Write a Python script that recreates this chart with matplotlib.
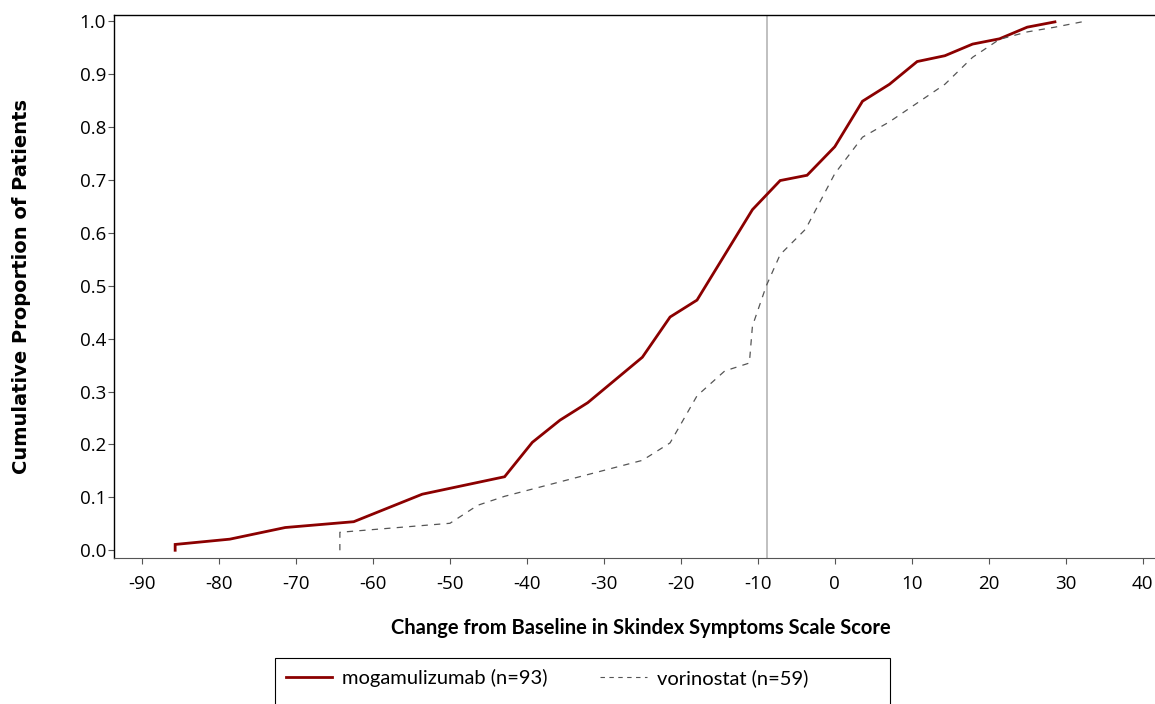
import matplotlib
matplotlib.use("Agg")
import matplotlib.pyplot as plt
from matplotlib.lines import Line2D
from matplotlib.patches import Rectangle

# change from baseline (x) vs cumulative proportion (y)
mog_x = [-85.7, -85.7, -78.6, -71.4, -62.5, -53.6, -42.9, -39.3, -35.7, -32.1,
         -25.0, -21.4, -17.9, -10.7, -7.1, -3.6, 0.0, 3.6, 7.1, 10.7,
         14.3, 17.9, 21.4, 25.0, 28.6]
mog_y = [0.0, 0.011, 0.021, 0.043, 0.054, 0.106, 0.139, 0.204, 0.246, 0.279,
         0.365, 0.441, 0.473, 0.644, 0.699, 0.709, 0.763, 0.849, 0.881, 0.924,
         0.935, 0.957, 0.967, 0.989, 0.999]

vor_x = [-64.3, -64.3, -50.0, -46.4, -42.9, -25.0, -21.4, -17.9, -14.3, -11.1,
         -10.7, -8.9, -7.1, -3.8, 0.0, 3.6, 7.1, 14.3, 17.9, 21.4,
         25.0, 28.6, 32.1]
vor_y = [0.0, 0.034, 0.051, 0.085, 0.102, 0.170, 0.203, 0.292, 0.339, 0.354,
         0.424, 0.500, 0.559, 0.607, 0.712, 0.781, 0.810, 0.881, 0.932, 0.966,
         0.980, 0.989, 0.999]

ref_x = -8.8

x_ticks = list(range(-90, 41, 10))
y_ticks = [i / 10 for i in range(11)]

mog_label = "mogamulizumab (n=93)"
vor_label = "vorinostat (n=59)"
x_title = "Change from Baseline in Skindex Symptoms Scale Score"
y_title = "Cumulative Proportion of Patients"

narrow = ["Lato", "DejaVu Sans"]

fig = plt.figure(figsize=(11.55, 7.04), dpi=100)
ax = fig.add_axes([0.099, 0.2074, 0.901, 0.7713])

red = "#8b0000"
ax.plot(mog_x, mog_y, color=red, lw=2.0, solid_joinstyle="miter")
ax.plot(vor_x, vor_y, color="#555555", lw=0.9, dashes=(5, 5))
ax.axvline(ref_x, color="#b5b5b5", lw=1.2, zorder=0)

ax.set_xlim(-93.6, 41.6)
ax.set_ylim(-0.0146, 1.012)
ax.set_xticks(x_ticks)
ax.set_xticklabels([str(v) for v in x_ticks])
ax.set_yticks(y_ticks)
ax.set_yticklabels([f"{v:.1f}" for v in y_ticks])

for s in ["left", "top"]:
    ax.spines[s].set_color("black")
    ax.spines[s].set_linewidth(1.0)
ax.spines["bottom"].set_color("#555555")
ax.spines["right"].set_visible(False)
ax.tick_params(axis="both", direction="out", length=4, width=0.8,
               color="#555555", labelsize=13.5)
ax.tick_params(axis="x", pad=8)
ax.tick_params(axis="y", pad=2)
for lab in ax.get_xticklabels() + ax.get_yticklabels():
    lab.set_family(["Open Sans", "DejaVu Sans"])

fig.text(0.555, 0.108, x_title, ha="center", va="center", fontsize=14.5,
         fontweight="bold", family=narrow)
fig.text(0.019, 0.593, y_title, ha="center", va="center", rotation=90,
         fontsize=14, fontweight="bold", family=["DejaVu Sans"])

handles = [Line2D([], [], color=red, lw=2.0),
           Line2D([], [], color="#555555", lw=0.8, dashes=(4, 4))]
leg = fig.legend(handles, [mog_label, vor_label], loc="upper left",
                 bbox_to_anchor=(275 / 1155, 1 - 658 / 704), ncol=2,
                 frameon=False, borderpad=0.55,
                 borderaxespad=0, handlelength=2.3, handletextpad=0.5,
                 columnspacing=2.6, prop={"family": narrow, "size": 14.5})

# legend box is wider than its entries and runs off the bottom edge
fig.patches.append(Rectangle((275 / 1155, -0.02), (890 - 275) / 1155,
                             1 - 658 / 704 + 0.02, transform=fig.transFigure,
                             fill=False, edgecolor="black", lw=0.8))

fig.savefig("out.png", dpi=100)
